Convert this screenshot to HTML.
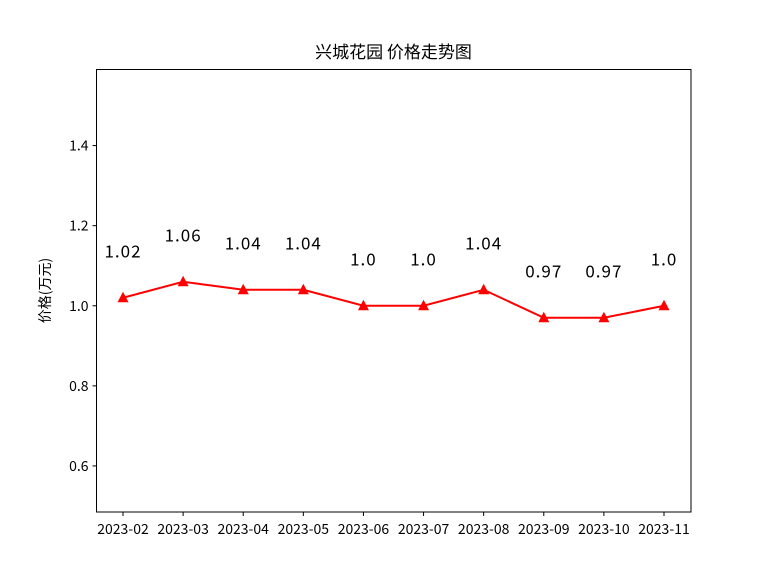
<!DOCTYPE html>
<html><head><meta charset="utf-8"><style>
body{margin:0;background:#fff;}
svg text{font-family:"WenQuanYi Zen Hei","Noto Sans CJK SC","Liberation Sans",sans-serif;}
</style></head><body>
<svg id="chart" width="768" height="576" xmlns="http://www.w3.org/2000/svg">
<rect width="768" height="576" fill="#fff"/>
<text x="393.5" y="58" font-size="17" text-anchor="middle" fill="#000">兴城花园 价格走势图</text>
<text transform="translate(50,290.5) rotate(-90)" font-size="14" text-anchor="middle" fill="#000">价格(万元)</text>
<g id="axes"></g>
<g id="marks"></g>
<rect x="96.5" y="69.5" width="594.5" height="442.5" fill="none" stroke="#000" stroke-width="1"/>
</svg>
<script>
const categories=["2023-02","2023-03","2023-04","2023-05","2023-06","2023-07","2023-08","2023-09","2023-10","2023-11"];
const prices=[1.02,1.06,1.04,1.04,1.0,1.0,1.04,0.97,0.97,1.0];
const priceLabels=["1.02","1.06","1.04","1.04","1.0","1.0","1.04","0.97","0.97","1.0"];
const yTicks=[0.6,0.8,1.0,1.2,1.4];
const yTickLabels=["0.6","0.8","1.0","1.2","1.4"];

const NS="http://www.w3.org/2000/svg";
const L=96.5,R=691,T=69.5,B=512;
const yMin=Math.min(...prices)*0.5,yMax=Math.max(...prices)*1.5;
const xFirst=123,xLast=664;
function xs(i){return xFirst+(xLast-xFirst)*i/(categories.length-1);}
function ys(v){return B-(v-yMin)/(yMax-yMin)*(B-T);}
function mk(tag,attrs,parent){const e=document.createElementNS(NS,tag);for(const k in attrs)e.setAttribute(k,attrs[k]);parent.appendChild(e);return e;}
const axes=document.getElementById('axes'),marks=document.getElementById('marks');

yTicks.forEach((v,i)=>{
  const y=ys(v);
  const t=mk('line',{x1:L-4,x2:L,y1:y,y2:y,stroke:'#000'},axes);
  
  
  const tx=mk('text',{x:L-8,y:y+5,'font-size':14,'text-anchor':'end'},axes);
  tx.textContent=yTickLabels[i];
  
  
});
categories.forEach((c,i)=>{
  const x=xs(i);
  const t=mk('line',{x1:x,x2:x,y1:B,y2:B+4,stroke:'#000'},axes);
  
  
  const tx=mk('text',{x:x,y:B+22,'font-size':14,'text-anchor':'middle'},axes);
  tx.textContent=c;
  
  
});
const pts=prices.map((v,i)=>xs(i)+','+ys(v)).join(' ');
const line=mk('polyline',{points:pts,fill:'none',stroke:'#ff0000','stroke-width':2},marks);


prices.forEach((v,i)=>{
  const x=xs(i),y=ys(v);
  const p=mk('polygon',{points:`${x},${y-6} ${x-5.5},${y+4.5} ${x+5.5},${y+4.5}`,fill:'#ff0000'},marks);
  
  
  const tx=mk('text',{x:x,y:ys(v+0.11)+4,'font-size':17,'text-anchor':'middle','letter-spacing':'1'},marks);
  tx.textContent=priceLabels[i];
  
  
});
</script>
</body></html>
